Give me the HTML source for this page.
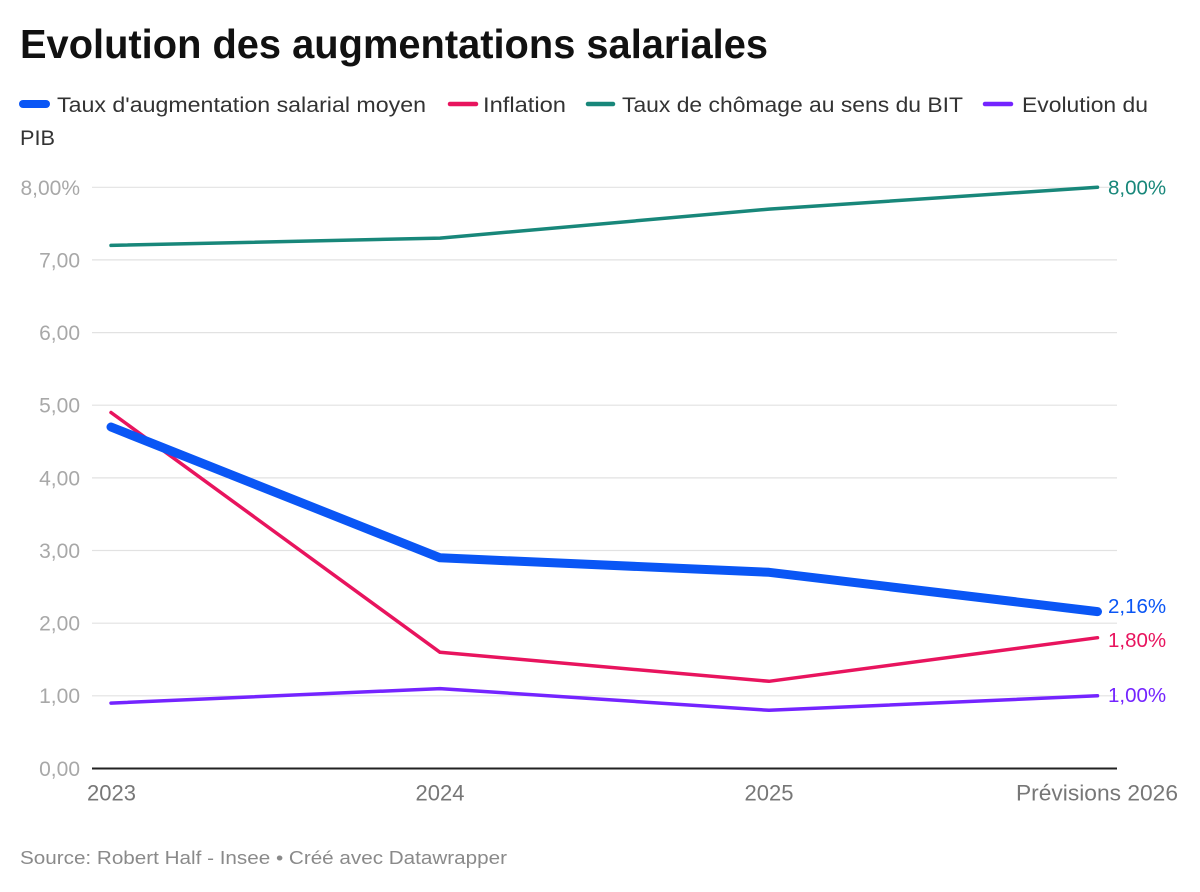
<!DOCTYPE html>
<html>
<head>
<meta charset="utf-8">
<style>
html,body{margin:0;padding:0;background:#fff;}
body{width:1200px;height:892px;overflow:hidden;}
svg{display:block;}
text{font-family:"Liberation Sans","DejaVu Sans",sans-serif;}
</style>
</head>
<body>
<svg width="1200" height="892" viewBox="0 0 1200 892" xmlns="http://www.w3.org/2000/svg">
  <rect width="1200" height="892" fill="#fff"/>
  <!-- Title -->
  <text x="20" y="58" font-size="41" font-weight="bold" fill="#111" textLength="748" lengthAdjust="spacingAndGlyphs">Evolution des augmentations salariales</text>

  <!-- Legend -->
  <line x1="23" y1="104" x2="46" y2="104" stroke="#0a56f5" stroke-width="8" stroke-linecap="round"/>
  <text x="57" y="112" font-size="21" fill="#333" textLength="369" lengthAdjust="spacingAndGlyphs">Taux d'augmentation salarial moyen</text>
  <line x1="450" y1="104" x2="476" y2="104" stroke="#e8145e" stroke-width="4.5" stroke-linecap="round"/>
  <text x="483" y="112" font-size="21" fill="#333" textLength="83" lengthAdjust="spacingAndGlyphs">Inflation</text>
  <line x1="588" y1="104" x2="613" y2="104" stroke="#18877a" stroke-width="4.5" stroke-linecap="round"/>
  <text x="622" y="112" font-size="21" fill="#333" textLength="341" lengthAdjust="spacingAndGlyphs">Taux de chômage au sens du BIT</text>
  <line x1="985" y1="104" x2="1011" y2="104" stroke="#7424ff" stroke-width="4.5" stroke-linecap="round"/>
  <text x="1022" y="112" font-size="21" fill="#333" textLength="126" lengthAdjust="spacingAndGlyphs">Evolution du</text>
  <text x="20" y="145" font-size="21" fill="#333" textLength="35" lengthAdjust="spacingAndGlyphs">PIB</text>

  <!-- Gridlines -->
  <g stroke="#e2e2e2" stroke-width="1.2">
    <line x1="92" y1="187.3" x2="1117" y2="187.3"/>
    <line x1="92" y1="259.9" x2="1117" y2="259.9"/>
    <line x1="92" y1="332.6" x2="1117" y2="332.6"/>
    <line x1="92" y1="405.2" x2="1117" y2="405.2"/>
    <line x1="92" y1="477.9" x2="1117" y2="477.9"/>
    <line x1="92" y1="550.5" x2="1117" y2="550.5"/>
    <line x1="92" y1="623.2" x2="1117" y2="623.2"/>
    <line x1="92" y1="695.8" x2="1117" y2="695.8"/>
  </g>
  <line x1="92" y1="768.5" x2="1117" y2="768.5" stroke="#222" stroke-width="2"/>

  <!-- Y labels -->
  <g font-size="21" fill="#a8a8a8" text-anchor="end">
    <text x="80" y="195">8,00%</text>
    <text x="80" y="267.5">7,00</text>
    <text x="80" y="340">6,00</text>
    <text x="80" y="412.5">5,00</text>
    <text x="80" y="485.5">4,00</text>
    <text x="80" y="558">3,00</text>
    <text x="80" y="630.5">2,00</text>
    <text x="80" y="703">1,00</text>
    <text x="80" y="776">0,00</text>
  </g>

  <!-- X labels -->
  <g font-size="22" fill="#777" text-anchor="middle">
    <text x="111.5" y="800.5">2023</text>
    <text x="440" y="800.5">2024</text>
    <text x="769" y="800.5">2025</text>
    <text x="1097" y="800.5" textLength="162" lengthAdjust="spacingAndGlyphs">Prévisions 2026</text>
  </g>

  <!-- Series -->
  <g fill="none" stroke-linecap="round" stroke-linejoin="round">
    <polyline stroke="#18877a" stroke-width="3.5" points="111,245.4 440,238.1 769,209.1 1097.5,187.3"/>
    <polyline stroke="#7424ff" stroke-width="3.5" points="111,703.1 440,688.6 769,710.3 1097.5,695.8"/>
    <polyline stroke="#e8145e" stroke-width="3.5" points="111,412.5 440,652.3 769,681.3 1097.5,637.7"/>
    <polyline stroke="#0a56f5" stroke-width="9" points="111,427.0 440,557.8 769,572.3 1097.5,611.6"/>
  </g>

  <!-- End labels -->
  <g font-size="20.5">
    <text x="1108" y="194.5" fill="#18877a">8,00%</text>
    <text x="1108" y="613" fill="#0a56f5">2,16%</text>
    <text x="1108" y="647" fill="#e8145e">1,80%</text>
    <text x="1108" y="702" fill="#7424ff">1,00%</text>
  </g>

  <!-- Source -->
  <text x="20" y="864" font-size="18.5" fill="#8a8a8a" textLength="487" lengthAdjust="spacingAndGlyphs">Source: Robert Half - Insee • Créé avec Datawrapper</text>
</svg>
</body>
</html>
